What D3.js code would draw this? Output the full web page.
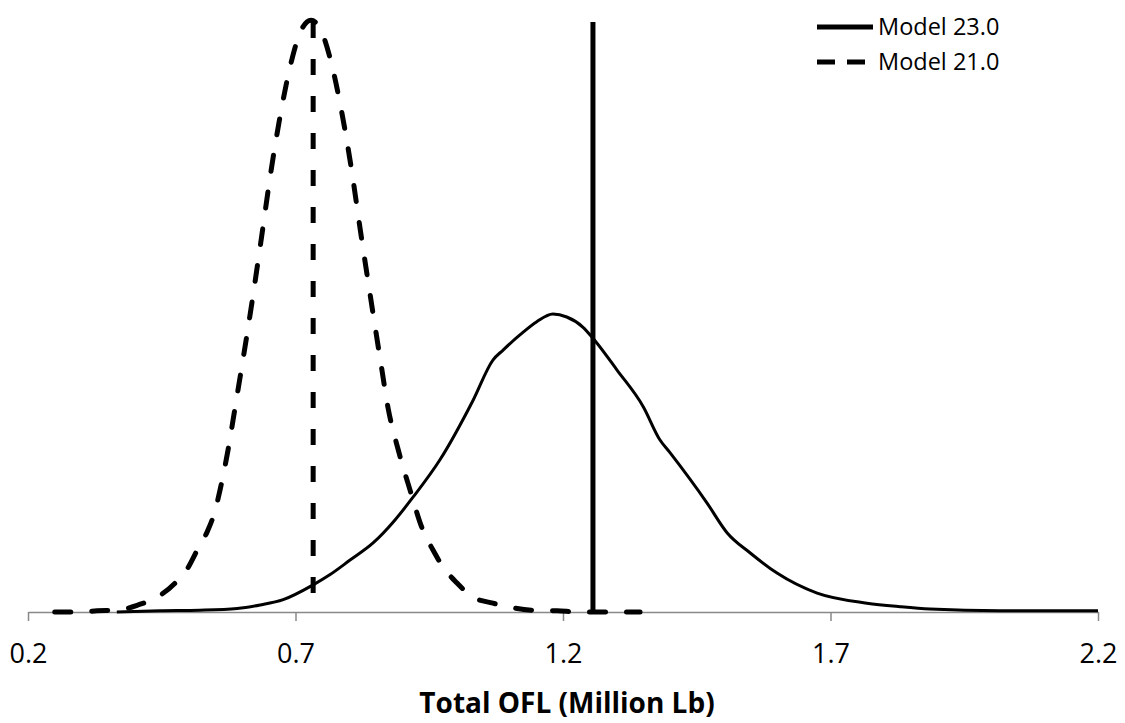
<!DOCTYPE html>
<html>
<head>
<meta charset="utf-8">
<script src="https://cdn.jsdelivr.net/npm/d3@7"></script>
<style>
  html, body { margin: 0; padding: 0; background: #fff; }
  svg { display: block; font-family: "Open Sans", "Noto Sans", sans-serif; }
</style>
</head>
<body>
<svg id="chart" width="1125" height="723"></svg>
<script>
// ---- Data ----
const xTicks = [0.2, 0.7, 1.2, 1.7, 2.2];
const seriesNames = ["Model 23.0", "Model 21.0"];

// Model 23.0 posterior density (relative scale)
const model23X = [0.366, 0.447, 0.521, 0.591, 0.634, 0.677, 0.733, 0.764, 0.802, 0.845, 0.886, 0.920, 0.970, 1.032, 1.069, 1.088, 1.120, 1.151, 1.181, 1.207, 1.237, 1.256, 1.301, 1.350, 1.381, 1.400, 1.469, 1.507, 1.550, 1.600, 1.675, 1.768, 1.830, 1.886, 2.017, 2.200];
const model23Y = [0.000, 0.002, 0.003, 0.006, 0.012, 0.021, 0.046, 0.063, 0.088, 0.117, 0.156, 0.195, 0.258, 0.359, 0.427, 0.444, 0.470, 0.492, 0.505, 0.500, 0.483, 0.464, 0.410, 0.348, 0.292, 0.270, 0.185, 0.134, 0.100, 0.066, 0.032, 0.015, 0.009, 0.005, 0.002, 0.002];

// Model 21.0 posterior density (relative scale)
const model21X = [0.250, 0.292, 0.329, 0.366, 0.406, 0.441, 0.475, 0.499, 0.518, 0.535, 0.550, 0.559, 0.574, 0.587, 0.617, 0.636, 0.654, 0.673, 0.692, 0.710, 0.729, 0.748, 0.766, 0.785, 0.804, 0.822, 0.841, 0.860, 0.873, 0.892, 0.914, 0.938, 0.957, 0.976, 1.002, 1.032, 1.069, 1.107, 1.144, 1.189, 1.232, 1.344];
const model21Y = [0.000, 0.000, 0.002, 0.003, 0.012, 0.025, 0.049, 0.075, 0.108, 0.136, 0.173, 0.207, 0.275, 0.346, 0.515, 0.632, 0.746, 0.849, 0.932, 0.985, 1.003, 0.985, 0.934, 0.854, 0.754, 0.642, 0.529, 0.419, 0.346, 0.275, 0.207, 0.139, 0.105, 0.076, 0.049, 0.025, 0.015, 0.007, 0.003, 0.002, 0.000, 0.000];

// Point estimates (vertical lines)
const model23Point = 1.256;
const model21Point = 0.733;
const pointLineTop = 1.0;

const xTitle = "Total OFL (Million Lb)";

// ---- Drawing ----
const svg = d3.select("#chart");
svg.append("rect").attr("width", 1125).attr("height", 723).attr("fill", "#fff");

const x = d3.scaleLinear().domain([0.2, 2.2]).range([28, 1098]);
const y = d3.scaleLinear().domain([0, 1]).range([612, 22]);

// Axis
const axis = d3.axisBottom(x)
  .tickValues(xTicks)
  .tickSize(9)
  .tickSizeOuter(0)
  .tickPadding(23)
  .tickFormat(d3.format(".1f"));

const gAxis = svg.append("g").attr("transform", `translate(0,${y(0)})`).call(axis);
gAxis.select(".domain").attr("stroke", "#898989").attr("stroke-width", 1.5);
gAxis.selectAll(".tick line").attr("stroke", "#898989").attr("stroke-width", 1.5);
gAxis.selectAll(".tick text")
  .attr("fill", "#000")
  .style("font-size", "27px")
  .style("font-family", "'Open Sans', sans-serif");

// Axis title
svg.append("text")
  .attr("x", x(1.2) + 4)
  .attr("y", 713)
  .attr("text-anchor", "middle")
  .style("font-size", "28px")
  .style("font-weight", "bold")
  .text(xTitle);

const line = d3.line().x(d => x(d[0])).y(d => y(d[1])).curve(d3.curveMonotoneX);

const d23 = model23X.map((v, i) => [v, model23Y[i]]);
const d21 = model21X.map((v, i) => [v, model21Y[i]]);

// Model 23.0 curve
svg.append("path").datum(d23)
  .attr("d", line)
  .attr("fill", "none").attr("stroke", "#000")
  .attr("stroke-width", 3).attr("stroke-linejoin", "round");

// Model 21.0 curve
svg.append("path").datum(d21)
  .attr("d", line)
  .attr("fill", "none").attr("stroke", "#000")
  .attr("stroke-width", 5)
  .attr("stroke-dasharray", "16,21")
  .attr("stroke-linecap", "round");

// Vertical point-estimate lines
svg.append("line")
  .attr("x1", x(model23Point)).attr("x2", x(model23Point))
  .attr("y1", y(pointLineTop)).attr("y2", y(0))
  .attr("stroke", "#000").attr("stroke-width", 5);

svg.append("line")
  .attr("x1", x(model21Point)).attr("x2", x(model21Point))
  .attr("y1", y(pointLineTop)).attr("y2", y(0))
  .attr("stroke", "#000").attr("stroke-width", 5)
  .attr("stroke-dasharray", "16,21")
  .attr("stroke-linecap", "butt");

// Legend
const legend = svg.append("g").attr("transform", "translate(817,0)");
const legendRows = [
  { name: seriesNames[0], dash: null, yy: 27 },
  { name: seriesNames[1], dash: "18,12", yy: 62 }
];
legendRows.forEach(r => {
  legend.append("line")
    .attr("x1", 0).attr("x2", 56)
    .attr("y1", r.yy).attr("y2", r.yy)
    .attr("stroke", "#000").attr("stroke-width", 5)
    .attr("stroke-dasharray", r.dash);
  legend.append("text")
    .attr("x", 61).attr("y", r.yy)
    .attr("dy", "0.35em")
    .style("font-size", "23.5px")
    .text(r.name);
});
</script>
</body>
</html>
